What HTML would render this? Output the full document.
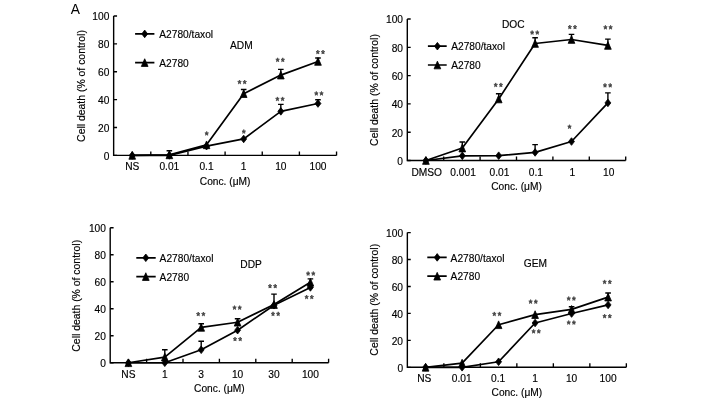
<!DOCTYPE html>
<html><head><meta charset="utf-8"><style>
html,body{margin:0;padding:0;background:#fff;}
svg{display:block;will-change:transform;}
text{font-family:"Liberation Sans", sans-serif;font-size:10.2px;fill:#000;stroke:#000;stroke-width:0.15px;}
text.yt{font-size:10.43px;}
</style></head><body>
<svg width="708" height="402" viewBox="0 0 708 402">
<rect width="708" height="402" fill="#fff"/>
<text x="70.8" y="13.8" style="font-size:13.8px;stroke:none">A</text>
<g fill="#000">
<path d="M113.65 16V155.4H336.55" fill="none" stroke="#000" stroke-width="1.4"/>
<path d="M113.65 155.4h3.4 M113.65 127.52h3.4 M113.65 99.64h3.4 M113.65 71.76h3.4 M113.65 43.88h3.4 M113.65 16h3.4 M150.8 155.4v-4 M187.95 155.4v-4 M225.1 155.4v-4 M262.25 155.4v-4 M299.4 155.4v-4 M336.55 155.4v-4" stroke="#000" stroke-width="1.35"/>
<text x="109.35" y="159.7" text-anchor="end">0</text>
<text x="109.35" y="131.82" text-anchor="end">20</text>
<text x="109.35" y="103.94" text-anchor="end">40</text>
<text x="109.35" y="76.06" text-anchor="end">60</text>
<text x="109.35" y="48.18" text-anchor="end">80</text>
<text x="109.35" y="20.3" text-anchor="end">100</text>
<text x="132.22" y="169.8" text-anchor="middle">NS</text>
<text x="169.38" y="169.8" text-anchor="middle">0.01</text>
<text x="206.53" y="169.8" text-anchor="middle">0.1</text>
<text x="243.68" y="169.8" text-anchor="middle">1</text>
<text x="280.82" y="169.8" text-anchor="middle">10</text>
<text x="317.98" y="169.8" text-anchor="middle">100</text>
<text x="225.1" y="184.7" text-anchor="middle">Conc. (μM)</text>
<text class="yt" transform="translate(84.8 86) rotate(-90)" text-anchor="middle">Cell death (% of control)</text>
<polyline points="132.22,155.4 169.38,154.84 206.53,144.81 243.68,93.65 280.82,75.11 317.98,61.44" fill="none" stroke="#000" stroke-width="1.7" stroke-linejoin="round"/>
<polyline points="132.22,155.4 169.38,155.4 206.53,146.2 243.68,138.95 280.82,111.35 317.98,103.54" fill="none" stroke="#000" stroke-width="1.7" stroke-linejoin="round"/>
<path d="M169.38 154.84V150.8M166.57 150.8h5.6" stroke="#000" stroke-width="1.4"/>
<path d="M243.68 93.65V89.46M240.88 89.46h5.6" stroke="#000" stroke-width="1.4"/>
<path d="M280.82 75.11V69.39M278.02 69.39h5.6" stroke="#000" stroke-width="1.4"/>
<path d="M317.98 61.44V57.96M315.18 57.96h5.6" stroke="#000" stroke-width="1.4"/>
<path d="M280.82 111.35V104.38M278.02 104.38h5.6" stroke="#000" stroke-width="1.4"/>
<path d="M317.98 103.54V99.78M315.18 99.78h5.6" stroke="#000" stroke-width="1.4"/>
<g stroke="#000" stroke-width="0.8" stroke-linejoin="round"><polygon points="132.22,151.55 135.57,159.25 128.88,159.25"/><polygon points="169.38,150.99 172.72,158.69 166.03,158.69"/><polygon points="206.53,140.96 209.88,148.66 203.18,148.66"/><polygon points="243.68,89.8 247.03,97.5 240.33,97.5"/><polygon points="280.82,71.26 284.18,78.96 277.47,78.96"/><polygon points="317.98,57.59 321.33,65.29 314.62,65.29"/><polygon points="132.22,151.6 135.17,155.4 132.22,159.2 129.28,155.4"/><polygon points="169.38,151.6 172.32,155.4 169.38,159.2 166.43,155.4"/><polygon points="206.53,142.4 209.47,146.2 206.53,150 203.58,146.2"/><polygon points="243.68,135.15 246.62,138.95 243.68,142.75 240.73,138.95"/><polygon points="280.82,107.55 283.77,111.35 280.82,115.15 277.88,111.35"/><polygon points="317.98,99.74 320.93,103.54 317.98,107.34 315.03,103.54"/><polygon points="144.7,30.1 147.65,33.9 144.7,37.7 141.75,33.9"/><polygon points="144.7,58.75 148.05,66.45 141.35,66.45"/></g>
<path d="M135.1 33.9H154.4M135.1 62.6H154.4" stroke="#000" stroke-width="1.7"/>
<text x="159.3" y="38.1">A2780/taxol</text>
<text x="159.3" y="66.5">A2780</text>
<text x="230" y="49.4">ADM</text>
<g fill="#444" stroke="#444" stroke-width="0.75" stroke-linejoin="round"><polygon points="206.7,131.42 207.2,132.78 208.51,132.89 207.51,133.84 207.82,135.27 206.7,134.5 205.58,135.27 205.89,133.84 204.89,132.89 206.2,132.78"/><polygon points="243.8,129.52 244.3,130.88 245.61,130.99 244.61,131.94 244.92,133.37 243.8,132.6 242.68,133.37 242.99,131.94 241.99,130.99 243.3,130.88"/><polygon points="239.5,80.02 240,81.38 241.31,81.49 240.31,82.44 240.62,83.87 239.5,83.1 238.38,83.87 238.69,82.44 237.69,81.49 239,81.38"/><polygon points="244.7,80.02 245.2,81.38 246.51,81.49 245.51,82.44 245.82,83.87 244.7,83.1 243.58,83.87 243.89,82.44 242.89,81.49 244.2,81.38"/><polygon points="277.6,57.82 278.1,59.18 279.41,59.29 278.41,60.24 278.72,61.67 277.6,60.9 276.48,61.67 276.79,60.24 275.79,59.29 277.1,59.18"/><polygon points="282.8,57.82 283.3,59.18 284.61,59.29 283.61,60.24 283.92,61.67 282.8,60.9 281.68,61.67 281.99,60.24 280.99,59.29 282.3,59.18"/><polygon points="317.8,50.02 318.3,51.38 319.61,51.49 318.61,52.44 318.92,53.87 317.8,53.1 316.68,53.87 316.99,52.44 315.99,51.49 317.3,51.38"/><polygon points="323,50.02 323.5,51.38 324.81,51.49 323.81,52.44 324.12,53.87 323,53.1 321.88,53.87 322.19,52.44 321.19,51.49 322.5,51.38"/><polygon points="277.4,96.92 277.9,98.28 279.21,98.39 278.21,99.34 278.52,100.77 277.4,100 276.28,100.77 276.59,99.34 275.59,98.39 276.9,98.28"/><polygon points="282.6,96.92 283.1,98.28 284.41,98.39 283.41,99.34 283.72,100.77 282.6,100 281.48,100.77 281.79,99.34 280.79,98.39 282.1,98.28"/><polygon points="316.3,91.42 316.8,92.78 318.11,92.89 317.11,93.84 317.42,95.27 316.3,94.5 315.18,95.27 315.49,93.84 314.49,92.89 315.8,92.78"/><polygon points="321.5,91.42 322,92.78 323.31,92.89 322.31,93.84 322.62,95.27 321.5,94.5 320.38,95.27 320.69,93.84 319.69,92.89 321,92.78"/></g>
<path d="M407.3 19V160.5H625.7" fill="none" stroke="#000" stroke-width="1.4"/>
<path d="M407.3 160.5h3.4 M407.3 132.2h3.4 M407.3 103.9h3.4 M407.3 75.6h3.4 M407.3 47.3h3.4 M407.3 19h3.4 M443.7 160.5v-4 M480.1 160.5v-4 M516.5 160.5v-4 M552.9 160.5v-4 M589.3 160.5v-4 M625.7 160.5v-4" stroke="#000" stroke-width="1.35"/>
<text x="403" y="164.8" text-anchor="end">0</text>
<text x="403" y="136.5" text-anchor="end">20</text>
<text x="403" y="108.2" text-anchor="end">40</text>
<text x="403" y="79.9" text-anchor="end">60</text>
<text x="403" y="51.6" text-anchor="end">80</text>
<text x="403" y="23.3" text-anchor="end">100</text>
<text x="426.7" y="175.5" text-anchor="middle">DMSO</text>
<text x="463.1" y="175.5" text-anchor="middle">0.001</text>
<text x="499.5" y="175.5" text-anchor="middle">0.01</text>
<text x="535.9" y="175.5" text-anchor="middle">0.1</text>
<text x="572.3" y="175.5" text-anchor="middle">1</text>
<text x="608.7" y="175.5" text-anchor="middle">10</text>
<text x="516.5" y="189.5" text-anchor="middle">Conc. (μM)</text>
<text class="yt" transform="translate(377.8 90) rotate(-90)" text-anchor="middle">Cell death (% of control)</text>
<polyline points="425.9,160.5 462.3,148.05 498.7,98.95 535.1,43.48 571.5,39.52 607.9,45.46" fill="none" stroke="#000" stroke-width="1.7" stroke-linejoin="round"/>
<polyline points="425.9,160.5 462.3,155.83 498.7,155.69 535.1,152.43 571.5,141.54 607.9,102.91" fill="none" stroke="#000" stroke-width="1.7" stroke-linejoin="round"/>
<path d="M462.3 148.05V141.96M459.5 141.96h5.6" stroke="#000" stroke-width="1.4"/>
<path d="M498.7 98.95V93.71M495.9 93.71h5.6" stroke="#000" stroke-width="1.4"/>
<path d="M535.1 43.48V37.68M532.3 37.68h5.6" stroke="#000" stroke-width="1.4"/>
<path d="M571.5 39.52V34.42M568.7 34.42h5.6" stroke="#000" stroke-width="1.4"/>
<path d="M607.9 45.46V39.09M605.1 39.09h5.6" stroke="#000" stroke-width="1.4"/>
<path d="M535.1 152.43V144.65M532.3 144.65h5.6" stroke="#000" stroke-width="1.4"/>
<path d="M607.9 102.91V92.86M605.1 92.86h5.6" stroke="#000" stroke-width="1.4"/>
<g stroke="#000" stroke-width="0.8" stroke-linejoin="round"><polygon points="425.9,156.65 429.25,164.35 422.55,164.35"/><polygon points="462.3,144.2 465.65,151.9 458.95,151.9"/><polygon points="498.7,95.1 502.05,102.8 495.35,102.8"/><polygon points="535.1,39.63 538.45,47.33 531.75,47.33"/><polygon points="571.5,35.67 574.85,43.37 568.15,43.37"/><polygon points="607.9,41.61 611.25,49.31 604.55,49.31"/><polygon points="425.9,156.7 428.85,160.5 425.9,164.3 422.95,160.5"/><polygon points="462.3,152.03 465.25,155.83 462.3,159.63 459.35,155.83"/><polygon points="498.7,151.89 501.65,155.69 498.7,159.49 495.75,155.69"/><polygon points="535.1,148.63 538.05,152.43 535.1,156.23 532.15,152.43"/><polygon points="571.5,137.74 574.45,141.54 571.5,145.34 568.55,141.54"/><polygon points="607.9,99.11 610.85,102.91 607.9,106.71 604.95,102.91"/><polygon points="437.4,42.4 440.35,46.2 437.4,50 434.45,46.2"/><polygon points="437.4,61.15 440.75,68.85 434.05,68.85"/></g>
<path d="M427.9 46.2H446.7M427.9 65H446.7" stroke="#000" stroke-width="1.7"/>
<text x="451.2" y="50.4">A2780/taxol</text>
<text x="451.2" y="68.9">A2780</text>
<text x="502" y="28.4">DOC</text>
<g fill="#444" stroke="#444" stroke-width="0.75" stroke-linejoin="round"><polygon points="495.7,82.92 496.2,84.28 497.51,84.39 496.51,85.34 496.82,86.77 495.7,86 494.58,86.77 494.89,85.34 493.89,84.39 495.2,84.28"/><polygon points="500.9,82.92 501.4,84.28 502.71,84.39 501.71,85.34 502.02,86.77 500.9,86 499.78,86.77 500.09,85.34 499.09,84.39 500.4,84.28"/><polygon points="532.1,30.52 532.6,31.88 533.91,31.99 532.91,32.94 533.22,34.37 532.1,33.6 530.98,34.37 531.29,32.94 530.29,31.99 531.6,31.88"/><polygon points="537.3,30.52 537.8,31.88 539.11,31.99 538.11,32.94 538.42,34.37 537.3,33.6 536.18,34.37 536.49,32.94 535.49,31.99 536.8,31.88"/><polygon points="569.8,25.02 570.3,26.38 571.61,26.49 570.61,27.44 570.92,28.87 569.8,28.1 568.68,28.87 568.99,27.44 567.99,26.49 569.3,26.38"/><polygon points="575,25.02 575.5,26.38 576.81,26.49 575.81,27.44 576.12,28.87 575,28.1 573.88,28.87 574.19,27.44 573.19,26.49 574.5,26.38"/><polygon points="605.4,25.32 605.9,26.68 607.21,26.79 606.21,27.74 606.52,29.17 605.4,28.4 604.28,29.17 604.59,27.74 603.59,26.79 604.9,26.68"/><polygon points="610.6,25.32 611.1,26.68 612.41,26.79 611.41,27.74 611.72,29.17 610.6,28.4 609.48,29.17 609.79,27.74 608.79,26.79 610.1,26.68"/><polygon points="569.5,124.72 570,126.08 571.31,126.19 570.31,127.14 570.62,128.57 569.5,127.8 568.38,128.57 568.69,127.14 567.69,126.19 569,126.08"/><polygon points="605,83.32 605.5,84.68 606.81,84.79 605.81,85.74 606.12,87.17 605,86.4 603.88,87.17 604.19,85.74 603.19,84.79 604.5,84.68"/><polygon points="610.2,83.32 610.7,84.68 612.01,84.79 611.01,85.74 611.32,87.17 610.2,86.4 609.08,87.17 609.39,85.74 608.39,84.79 609.7,84.68"/></g>
<path d="M110.2 227.75V362.75H328.6" fill="none" stroke="#000" stroke-width="1.4"/>
<path d="M110.2 362.75h3.4 M110.2 335.75h3.4 M110.2 308.75h3.4 M110.2 281.75h3.4 M110.2 254.75h3.4 M110.2 227.75h3.4 M146.6 362.75v-4 M183 362.75v-4 M219.4 362.75v-4 M255.8 362.75v-4 M292.2 362.75v-4 M328.6 362.75v-4" stroke="#000" stroke-width="1.35"/>
<text x="105.9" y="367.05" text-anchor="end">0</text>
<text x="105.9" y="340.05" text-anchor="end">20</text>
<text x="105.9" y="313.05" text-anchor="end">40</text>
<text x="105.9" y="286.05" text-anchor="end">60</text>
<text x="105.9" y="259.05" text-anchor="end">80</text>
<text x="105.9" y="232.05" text-anchor="end">100</text>
<text x="128.4" y="377.55" text-anchor="middle">NS</text>
<text x="164.8" y="377.55" text-anchor="middle">1</text>
<text x="201.2" y="377.55" text-anchor="middle">3</text>
<text x="237.6" y="377.55" text-anchor="middle">10</text>
<text x="274" y="377.55" text-anchor="middle">30</text>
<text x="310.4" y="377.55" text-anchor="middle">100</text>
<text x="219.4" y="392.05" text-anchor="middle">Conc. (μM)</text>
<text class="yt" transform="translate(79.5 295.8) rotate(-90)" text-anchor="middle">Cell death (% of control)</text>
<polyline points="128.4,362.75 164.8,357.08 201.2,327.38 237.6,322.25 274,304.56 310.4,282.29" fill="none" stroke="#000" stroke-width="1.7" stroke-linejoin="round"/>
<polyline points="128.4,362.75 164.8,362.75 201.2,349.79 237.6,330.21 274,305.24 310.4,287.42" fill="none" stroke="#000" stroke-width="1.7" stroke-linejoin="round"/>
<path d="M164.8 357.08V349.79M162 349.79h5.6" stroke="#000" stroke-width="1.4"/>
<path d="M201.2 327.38V323.74M198.4 323.74h5.6" stroke="#000" stroke-width="1.4"/>
<path d="M237.6 322.25V318.74M234.8 318.74h5.6" stroke="#000" stroke-width="1.4"/>
<path d="M274 304.56V294.17M271.2 294.17h5.6" stroke="#000" stroke-width="1.4"/>
<path d="M310.4 282.29V278.91M307.6 278.91h5.6" stroke="#000" stroke-width="1.4"/>
<path d="M201.2 349.79V341.28M198.4 341.28h5.6" stroke="#000" stroke-width="1.4"/>
<g stroke="#000" stroke-width="0.8" stroke-linejoin="round"><polygon points="128.4,358.9 131.75,366.6 125.05,366.6"/><polygon points="164.8,353.23 168.15,360.93 161.45,360.93"/><polygon points="201.2,323.53 204.55,331.23 197.85,331.23"/><polygon points="237.6,318.4 240.95,326.1 234.25,326.1"/><polygon points="274,300.71 277.35,308.42 270.65,308.42"/><polygon points="310.4,278.44 313.75,286.14 307.05,286.14"/><polygon points="128.4,358.95 131.35,362.75 128.4,366.55 125.45,362.75"/><polygon points="164.8,358.95 167.75,362.75 164.8,366.55 161.85,362.75"/><polygon points="201.2,345.99 204.15,349.79 201.2,353.59 198.25,349.79"/><polygon points="237.6,326.41 240.55,330.21 237.6,334.01 234.65,330.21"/><polygon points="274,301.44 276.95,305.24 274,309.04 271.05,305.24"/><polygon points="310.4,283.62 313.35,287.42 310.4,291.22 307.45,287.42"/><polygon points="145.8,254 148.75,257.8 145.8,261.6 142.85,257.8"/><polygon points="145.8,272.75 149.15,280.45 142.45,280.45"/></g>
<path d="M136.3 257.8H155.7M136.3 276.6H155.7" stroke="#000" stroke-width="1.7"/>
<text x="159.6" y="262">A2780/taxol</text>
<text x="159.6" y="280.5">A2780</text>
<text x="240.3" y="268.1">DDP</text>
<g fill="#444" stroke="#444" stroke-width="0.75" stroke-linejoin="round"><polygon points="198.2,312.02 198.7,313.38 200.01,313.49 199.01,314.44 199.32,315.87 198.2,315.1 197.08,315.87 197.39,314.44 196.39,313.49 197.7,313.38"/><polygon points="203.4,312.02 203.9,313.38 205.21,313.49 204.21,314.44 204.52,315.87 203.4,315.1 202.28,315.87 202.59,314.44 201.59,313.49 202.9,313.38"/><polygon points="234.5,305.62 235,306.98 236.31,307.09 235.31,308.04 235.62,309.47 234.5,308.7 233.38,309.47 233.69,308.04 232.69,307.09 234,306.98"/><polygon points="239.7,305.62 240.2,306.98 241.51,307.09 240.51,308.04 240.82,309.47 239.7,308.7 238.58,309.47 238.89,308.04 237.89,307.09 239.2,306.98"/><polygon points="235,337.02 235.5,338.38 236.81,338.49 235.81,339.44 236.12,340.87 235,340.1 233.88,340.87 234.19,339.44 233.19,338.49 234.5,338.38"/><polygon points="240.2,337.02 240.7,338.38 242.01,338.49 241.01,339.44 241.32,340.87 240.2,340.1 239.08,340.87 239.39,339.44 238.39,338.49 239.7,338.38"/><polygon points="270,284.12 270.5,285.48 271.81,285.59 270.81,286.54 271.12,287.97 270,287.2 268.88,287.97 269.19,286.54 268.19,285.59 269.5,285.48"/><polygon points="275.2,284.12 275.7,285.48 277.01,285.59 276.01,286.54 276.32,287.97 275.2,287.2 274.08,287.97 274.39,286.54 273.39,285.59 274.7,285.48"/><polygon points="273,311.82 273.5,313.18 274.81,313.29 273.81,314.24 274.12,315.67 273,314.9 271.88,315.67 272.19,314.24 271.19,313.29 272.5,313.18"/><polygon points="278.2,311.82 278.7,313.18 280.01,313.29 279.01,314.24 279.32,315.67 278.2,314.9 277.08,315.67 277.39,314.24 276.39,313.29 277.7,313.18"/><polygon points="308.1,271.52 308.6,272.88 309.91,272.99 308.91,273.94 309.22,275.37 308.1,274.6 306.98,275.37 307.29,273.94 306.29,272.99 307.6,272.88"/><polygon points="313.3,271.52 313.8,272.88 315.11,272.99 314.11,273.94 314.42,275.37 313.3,274.6 312.18,275.37 312.49,273.94 311.49,272.99 312.8,272.88"/><polygon points="306.6,295.02 307.1,296.38 308.41,296.49 307.41,297.44 307.72,298.87 306.6,298.1 305.48,298.87 305.79,297.44 304.79,296.49 306.1,296.38"/><polygon points="311.8,295.02 312.3,296.38 313.61,296.49 312.61,297.44 312.92,298.87 311.8,298.1 310.68,298.87 310.99,297.44 309.99,296.49 311.3,296.38"/></g>
<path d="M407.35 232.6V367.3H626.35" fill="none" stroke="#000" stroke-width="1.4"/>
<path d="M407.35 367.3h3.4 M407.35 340.36h3.4 M407.35 313.42h3.4 M407.35 286.48h3.4 M407.35 259.54h3.4 M407.35 232.6h3.4 M443.85 367.3v-4 M480.35 367.3v-4 M516.85 367.3v-4 M553.35 367.3v-4 M589.85 367.3v-4 M626.35 367.3v-4" stroke="#000" stroke-width="1.35"/>
<text x="403.05" y="371.6" text-anchor="end">0</text>
<text x="403.05" y="344.66" text-anchor="end">20</text>
<text x="403.05" y="317.72" text-anchor="end">40</text>
<text x="403.05" y="290.78" text-anchor="end">60</text>
<text x="403.05" y="263.84" text-anchor="end">80</text>
<text x="403.05" y="236.9" text-anchor="end">100</text>
<text x="424.3" y="381.6" text-anchor="middle">NS</text>
<text x="461.7" y="381.6" text-anchor="middle">0.01</text>
<text x="498.2" y="381.6" text-anchor="middle">0.1</text>
<text x="535.1" y="381.6" text-anchor="middle">1</text>
<text x="571.6" y="381.6" text-anchor="middle">10</text>
<text x="608.1" y="381.6" text-anchor="middle">100</text>
<text x="516.85" y="396.3" text-anchor="middle">Conc. (μM)</text>
<text class="yt" transform="translate(377.5 299.75) rotate(-90)" text-anchor="middle">Cell death (% of control)</text>
<polyline points="425.6,367.3 462.1,363.12 498.6,324.73 535.1,314.63 571.6,309.38 608.1,297.12" fill="none" stroke="#000" stroke-width="1.7" stroke-linejoin="round"/>
<polyline points="425.6,367.3 462.1,367.3 498.6,361.78 535.1,322.98 571.6,313.55 608.1,304.93" fill="none" stroke="#000" stroke-width="1.7" stroke-linejoin="round"/>
<path d="M571.6 309.38V306.69M568.8 306.69h5.6" stroke="#000" stroke-width="1.4"/>
<path d="M608.1 297.12V292.95M605.3 292.95h5.6" stroke="#000" stroke-width="1.4"/>
<g stroke="#000" stroke-width="0.8" stroke-linejoin="round"><polygon points="425.6,363.45 428.95,371.15 422.25,371.15"/><polygon points="462.1,359.27 465.45,366.97 458.75,366.97"/><polygon points="498.6,320.88 501.95,328.58 495.25,328.58"/><polygon points="535.1,310.78 538.45,318.48 531.75,318.48"/><polygon points="571.6,305.53 574.95,313.23 568.25,313.23"/><polygon points="608.1,293.27 611.45,300.97 604.75,300.97"/><polygon points="425.6,363.5 428.55,367.3 425.6,371.1 422.65,367.3"/><polygon points="462.1,363.5 465.05,367.3 462.1,371.1 459.15,367.3"/><polygon points="498.6,357.98 501.55,361.78 498.6,365.58 495.65,361.78"/><polygon points="535.1,319.18 538.05,322.98 535.1,326.78 532.15,322.98"/><polygon points="571.6,309.75 574.55,313.55 571.6,317.35 568.65,313.55"/><polygon points="608.1,301.13 611.05,304.93 608.1,308.73 605.15,304.93"/><polygon points="437.2,253.6 440.15,257.4 437.2,261.2 434.25,257.4"/><polygon points="437.2,272.35 440.55,280.05 433.85,280.05"/></g>
<path d="M427.3 257.4H446.7M427.3 276.2H446.7" stroke="#000" stroke-width="1.7"/>
<text x="450.6" y="261.6">A2780/taxol</text>
<text x="450.6" y="280.1">A2780</text>
<text x="523.8" y="267.1">GEM</text>
<g fill="#444" stroke="#444" stroke-width="0.75" stroke-linejoin="round"><polygon points="494.3,311.92 494.8,313.28 496.11,313.39 495.11,314.34 495.42,315.77 494.3,315 493.18,315.77 493.49,314.34 492.49,313.39 493.8,313.28"/><polygon points="499.5,311.92 500,313.28 501.31,313.39 500.31,314.34 500.62,315.77 499.5,315 498.38,315.77 498.69,314.34 497.69,313.39 499,313.28"/><polygon points="530.6,299.62 531.1,300.98 532.41,301.09 531.41,302.04 531.72,303.47 530.6,302.7 529.48,303.47 529.79,302.04 528.79,301.09 530.1,300.98"/><polygon points="535.8,299.62 536.3,300.98 537.61,301.09 536.61,302.04 536.92,303.47 535.8,302.7 534.68,303.47 534.99,302.04 533.99,301.09 535.3,300.98"/><polygon points="533.6,329.32 534.1,330.68 535.41,330.79 534.41,331.74 534.72,333.17 533.6,332.4 532.48,333.17 532.79,331.74 531.79,330.79 533.1,330.68"/><polygon points="538.8,329.32 539.3,330.68 540.61,330.79 539.61,331.74 539.92,333.17 538.8,332.4 537.68,333.17 537.99,331.74 536.99,330.79 538.3,330.68"/><polygon points="568.7,296.52 569.2,297.88 570.51,297.99 569.51,298.94 569.82,300.37 568.7,299.6 567.58,300.37 567.89,298.94 566.89,297.99 568.2,297.88"/><polygon points="573.9,296.52 574.4,297.88 575.71,297.99 574.71,298.94 575.02,300.37 573.9,299.6 572.78,300.37 573.09,298.94 572.09,297.99 573.4,297.88"/><polygon points="568.7,320.52 569.2,321.88 570.51,321.99 569.51,322.94 569.82,324.37 568.7,323.6 567.58,324.37 567.89,322.94 566.89,321.99 568.2,321.88"/><polygon points="573.9,320.52 574.4,321.88 575.71,321.99 574.71,322.94 575.02,324.37 573.9,323.6 572.78,324.37 573.09,322.94 572.09,321.99 573.4,321.88"/><polygon points="604.6,279.92 605.1,281.28 606.41,281.39 605.41,282.34 605.72,283.77 604.6,283 603.48,283.77 603.79,282.34 602.79,281.39 604.1,281.28"/><polygon points="609.8,279.92 610.3,281.28 611.61,281.39 610.61,282.34 610.92,283.77 609.8,283 608.68,283.77 608.99,282.34 607.99,281.39 609.3,281.28"/><polygon points="604.6,314.12 605.1,315.48 606.41,315.59 605.41,316.54 605.72,317.97 604.6,317.2 603.48,317.97 603.79,316.54 602.79,315.59 604.1,315.48"/><polygon points="609.8,314.12 610.3,315.48 611.61,315.59 610.61,316.54 610.92,317.97 609.8,317.2 608.68,317.97 608.99,316.54 607.99,315.59 609.3,315.48"/></g>
</g>
</svg>
</body></html>
